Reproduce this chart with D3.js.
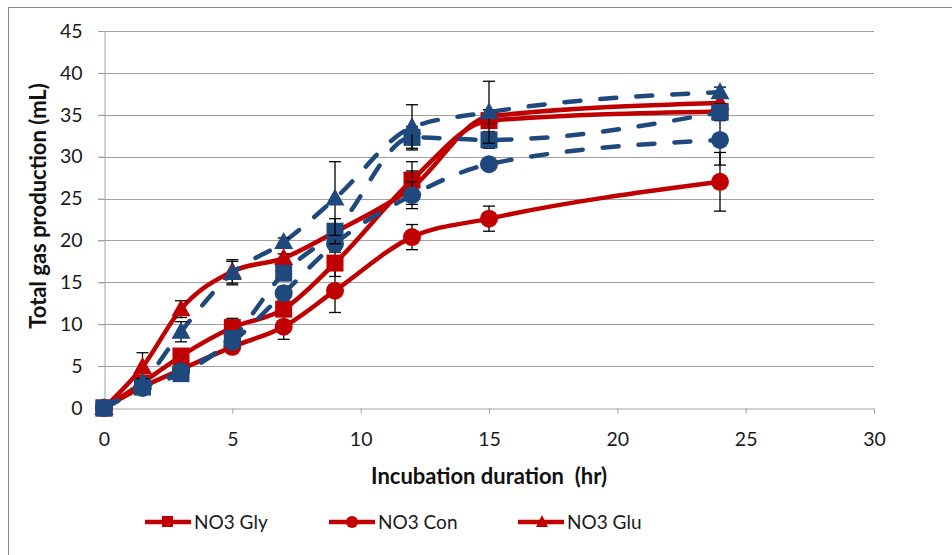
<!DOCTYPE html>
<html>
<head>
<meta charset="utf-8">
<script src="https://cdn.jsdelivr.net/npm/d3@7"></script>
<style>
  html, body { margin: 0; padding: 0; background: #fff; }
  svg { display: block; font-family: Lato, "Open Sans", sans-serif; }
</style>
</head>
<body>
<svg id="chart" width="952" height="555"></svg>
<script>
// Incubation times (hr)
const hours = [0, 1.5, 3, 5, 7, 9, 12, 15, 24];

// Total gas production (mL) and standard errors, per treatment
const no3Gly    = [0, 3.0, 6.2, 9.6, 11.8, 17.3, 27.2, 34.3, 35.4];
const no3GlyErr = [0, 0, 0.5, 1.1, 0.5, 1.6, 2.2, 0.5, 0.5];
const no3Con    = [0, 2.5, 4.6, 7.3, 9.7, 14.0, 20.4, 22.6, 27.0];
const no3ConErr = [0, 0, 0.3, 0.4, 1.5, 2.6, 1.5, 1.5, 3.5];
const no3Glu    = [0, 4.9, 11.8, 16.3, 17.9, 21.0, 26.3, 34.8, 36.4];
const no3GluErr = [0, 1.7, 1.0, 1.4, 0.5, 0.5, 2.0, 0.8, 0.6];

const blueSq     = [0, 2.5, 4.1, 8.3, 16.1, 21.1, 32.3, 32.0, 35.3];
const blueSqErr  = [0, 0.3, 0.3, 0.5, 0.5, 1.5, 1.3, 1.0, 1.0];
const blueCir    = [0, 2.4, 4.4, 7.9, 13.7, 19.6, 25.4, 29.1, 32.0];
const blueCirErr = [0, 0.3, 0.5, 0.5, 0.8, 1.0, 1.6, 0.5, 3.0];
const blueTri    = [0, 3.0, 9.1, 16.1, 19.8, 25.0, 33.5, 35.3, 37.7];
const blueTriErr = [0, 0.5, 1.2, 1.4, 0.5, 4.4, 2.7, 3.7, 0.6];

const xTicks = [0, 5, 10, 15, 20, 25, 30];
const yTicks = [0, 5, 10, 15, 20, 25, 30, 35, 40, 45];

const legendNames = ["NO3 Gly", "NO3 Con", "NO3 Glu"];

const RED = "#C00000";
const BLUE = "#1F497D";

// drawn in this order: red treatments first, dashed blue ones on top
const series = [
  { name: legendNames[1], values: no3Con, err: no3ConErr, color: RED, shape: "circle", dashed: false },
  { name: legendNames[0], values: no3Gly, err: no3GlyErr, color: RED, shape: "square", dashed: false },
  { name: legendNames[2], values: no3Glu, err: no3GluErr, color: RED, shape: "triangle", dashed: false },
  { name: "blueCir", values: blueCir, err: blueCirErr, color: BLUE, shape: "circle", dashed: true },
  { name: "blueSq",  values: blueSq,  err: blueSqErr,  color: BLUE, shape: "square", dashed: true },
  { name: "blueTri", values: blueTri, err: blueTriErr, color: BLUE, shape: "triangle", dashed: true }
];

const svg = d3.select("#chart");

// outer chart frame
svg.append("rect")
  .attr("x", 8.5).attr("y", 7.5).attr("width", 960).attr("height", 560)
  .attr("fill", "#fff").attr("stroke", "#8a8a8a").attr("stroke-width", 1);

const plot = { left: 104, right: 874, top: 31, bottom: 408 };

const x = d3.scaleLinear().domain([0, 30]).range([plot.left, plot.right]);
const y = d3.scaleLinear().domain([0, 45]).range([plot.bottom, plot.top]);

// horizontal gridlines
svg.append("g")
  .selectAll("line")
  .data(yTicks.filter(d => d > 0))
  .join("line")
  .attr("x1", plot.left - 6).attr("x2", plot.right)
  .attr("y1", d => Math.round(y(d)) + 0.5).attr("y2", d => Math.round(y(d)) + 0.5)
  .attr("stroke", "#a0a0a0").attr("stroke-width", 1);

// y axis
const yAxis = svg.append("g")
  .attr("transform", `translate(${plot.left + 0.5},0)`)
  .call(d3.axisLeft(y).tickValues(yTicks).tickSize(6).tickPadding(16));
yAxis.select(".domain").attr("stroke", "#a0a0a0");
yAxis.selectAll(".tick line").attr("stroke", "#a0a0a0");
yAxis.selectAll(".tick text")
  .attr("font-family", "Lato, sans-serif").attr("font-size", 19.5).attr("fill", "#1a1a1a");

// x axis
const xAxis = svg.append("g")
  .attr("transform", `translate(0,${Math.round(plot.bottom) + 0.5})`)
  .call(d3.axisBottom(x).tickValues(xTicks).tickSize(5).tickPadding(19));
xAxis.select(".domain").attr("stroke", "#a0a0a0");
xAxis.selectAll(".tick line").attr("stroke", "#a0a0a0");
xAxis.selectAll(".tick text")
  .attr("font-family", "Lato, sans-serif").attr("font-size", 19.5).attr("fill", "#1a1a1a");

// axis titles
svg.append("text")
  .attr("x", 489).attr("y", 484)
  .attr("text-anchor", "middle")
  .attr("font-size", 22).attr("font-weight", "bold").attr("fill", "#111")
  .style("white-space", "pre")
  .text("Incubation duration  (hr)");

svg.append("text")
  .attr("transform", "translate(46,206) rotate(-90)")
  .attr("text-anchor", "middle")
  .attr("font-size", 22).attr("font-weight", "bold").attr("fill", "#111")
  .text("Total gas production (mL)");

const line = d3.line()
  .x((d, i) => x(hours[i]))
  .y(d => y(d))
  .curve(d3.curveMonotoneX);

function drawMarker(g, shape, color, cx, cy) {
  if (shape === "square") {
    g.append("rect").attr("x", cx - 8.5).attr("y", cy - 8.5)
      .attr("width", 17).attr("height", 17).attr("fill", color);
  } else if (shape === "circle") {
    g.append("circle").attr("cx", cx).attr("cy", cy).attr("r", 9).attr("fill", color);
  } else {
    g.append("path")
      .attr("d", `M${cx},${cy - 10}L${cx + 9.5},${cy + 7}L${cx - 9.5},${cy + 7}Z`)
      .attr("fill", color);
  }
}

series.forEach(s => {
  const g = svg.append("g");
  g.append("path")
    .attr("d", line(s.values))
    .attr("fill", "none")
    .attr("stroke", s.color)
    .attr("stroke-width", 4.5)
    .attr("stroke-linecap", "round")
    .attr("stroke-linejoin", "round")
    .attr("stroke-dasharray", s.dashed ? "16 20" : null);

  s.values.forEach((v, i) => {
    const e = s.err[i];
    if (e > 0) {
      const cx = x(hours[i]);
      const y1 = y(v + e), y2 = y(v - e);
      g.append("line").attr("x1", cx).attr("x2", cx).attr("y1", y1).attr("y2", y2)
        .attr("stroke", "#000").attr("stroke-width", 1.3);
      [y1, y2].forEach(yy => g.append("line")
        .attr("x1", cx - 6).attr("x2", cx + 6).attr("y1", yy).attr("y2", yy)
        .attr("stroke", "#000").attr("stroke-width", 1.3));
    }
  });

  s.values.forEach((v, i) => drawMarker(g, s.shape, s.color, x(hours[i]), y(v)));
});

// legend
const legendItems = [
  { name: legendNames[0], shape: "square", x: 145 },
  { name: legendNames[1], shape: "circle", x: 329 },
  { name: legendNames[2], shape: "triangle", x: 518 }
];
const lg = svg.append("g");
legendItems.forEach(it => {
  lg.append("line").attr("x1", it.x).attr("x2", it.x + 46).attr("y1", 522).attr("y2", 522)
    .attr("stroke", RED).attr("stroke-width", 4.5);
  const g = lg.append("g");
  if (it.shape === "square") {
    g.append("rect").attr("x", it.x + 17).attr("y", 516).attr("width", 11).attr("height", 11).attr("fill", RED);
  } else if (it.shape === "circle") {
    g.append("circle").attr("cx", it.x + 23).attr("cy", 522).attr("r", 6).attr("fill", RED);
  } else {
    g.append("path").attr("d", `M${it.x + 24},${515}L${it.x + 30},${527}L${it.x + 18},${527}Z`).attr("fill", RED);
  }
  lg.append("text").attr("x", it.x + 49).attr("y", 529)
    .attr("font-size", 19).attr("fill", "#1a1a1a").text(it.name);
});
</script>
</body>
</html>
